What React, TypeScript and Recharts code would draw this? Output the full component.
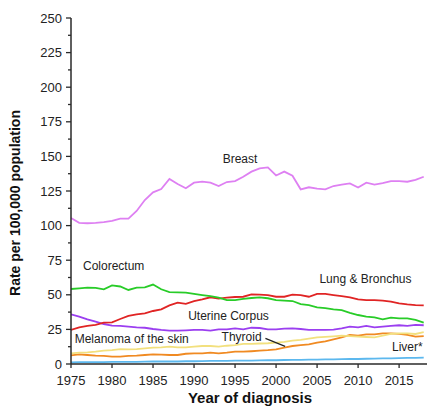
import { LineChart, Line, XAxis, YAxis, ReferenceDot, ReferenceLine } from 'recharts';

const years = [
  1975, 1976, 1977, 1978, 1979, 1980, 1981, 1982, 1983, 1984,
  1985, 1986, 1987, 1988, 1989, 1990, 1991, 1992, 1993, 1994,
  1995, 1996, 1997, 1998, 1999, 2000, 2001, 2002, 2003, 2004,
  2005, 2006, 2007, 2008, 2009, 2010, 2011, 2012, 2013, 2014,
  2015, 2016, 2017, 2018,
];

const breast = [
  105.5, 102, 101.7, 102, 102.5, 103.4, 105, 105, 110.6, 118.5,
  124, 126.4, 133.7, 130, 127, 131, 131.7, 131, 128.6, 131.5,
  132.2, 135.3, 139, 141.3, 142, 136.2, 139, 136, 126.2, 127.7,
  126.7, 126.2, 128.6, 129.6, 130.5, 127.5, 131, 129.6, 130.7, 132.2,
  132.2, 131.7, 133, 135.3,
];
const colorectum = [
  54.2, 54.7, 55.2, 55, 54, 56.8, 56, 53.5, 55.2, 55.4,
  57.4, 54, 52, 51.8, 51.5, 50.6, 49.8, 49, 47.9, 46.2,
  46.2, 47, 47.7, 48.2, 47.5, 46.2, 45.8, 45.5, 43.3, 42.6,
  40.9, 40.4, 39.5, 39, 37, 35.4, 34.2, 33.7, 32.3, 33.5,
  33, 33, 31.8, 29.9,
];
const lung = [
  24.6, 26.5, 27.5, 28.2, 29.9, 30.1, 32.5, 34.7, 35.9, 36.6,
  38.3, 39.5, 42.4, 44.3, 43.4, 45.5, 46.7, 48.2, 47.2, 47.9,
  48.4, 48.6, 50.3, 50.1, 49.8, 48.6, 48.6, 50.1, 49.8, 48.6,
  50.6, 50.6, 49.8, 49.1, 48.2, 46.7, 46.2, 46.2, 45.8, 45,
  43.8, 43.1, 42.6, 42.4,
];
const uterine = [
  35.9, 34.2, 32.3, 30.6, 28.9, 27.7, 27.5, 27, 26.5, 26.2,
  25.3, 24.6, 24.1, 24.1, 24.3, 24.6, 24.6, 24.1, 25, 25,
  25.8, 25, 26.2, 26, 25, 25, 25.5, 25.8, 25.3, 24.6,
  24.6, 24.6, 24.8, 25.8, 27, 26.5, 27.5, 26.5, 27, 27.5,
  28, 27.5, 28.2, 28,
];
const melanoma = [
  7.7, 8.2, 8.4, 8.9, 9.6, 10.1, 10.8, 10.6, 10.8, 11.3,
  11.8, 12, 12.5, 12, 12, 12.5, 13, 13, 12.5, 13.2,
  13.7, 14.5, 14.6, 14.8, 15, 15.4, 16, 16.9, 17.5, 18.3,
  19.2, 19.6, 20, 20.5, 20.2, 19.8, 19.5, 19.2, 20.5, 21.7,
  22.2, 22.2, 21.7, 23,
];
const thyroid = [
  6.2, 7, 6.5, 6, 5.8, 5.3, 5.3, 5.8, 6, 6.5,
  7, 6.8, 6.5, 6.5, 7.4, 7.7, 7.7, 8.2, 7.7, 8.2,
  8.9, 8.9, 9.2, 9.6, 10, 10.6, 11.8, 13, 13.7, 14.2,
  15.4, 16.4, 17.8, 19.2, 21, 20.5, 21.4, 21.4, 22.2, 22.2,
  21.7, 21, 19.8, 20.2,
];
const liver = [
  1.2, 1.3, 1.3, 1.4, 1.3, 1.5, 1.5, 1.6, 1.5, 1.7,
  1.8, 1.8, 1.9, 1.8, 2, 2, 2.1, 2.2, 2.3, 2.2,
  2.4, 2.5, 2.5, 2.6, 2.7, 2.7, 2.9, 3, 3, 3.1,
  3.2, 3.3, 3.4, 3.5, 3.6, 3.6, 3.8, 3.9, 4, 4.1,
  4.2, 4.4, 4.4, 4.6,
];

const xTicks = [1975, 1980, 1985, 1990, 1995, 2000, 2005, 2010, 2015];
const yTicks = [0, 12.5, 25, 37.5, 50, 62.5, 75, 87.5, 100, 112.5, 125, 137.5, 150, 162.5, 175, 187.5, 200, 212.5, 225, 237.5, 250];

const seriesLabels = [
  { name: 'Breast', year: 1995.6, value: 148.6 },
  { name: 'Colorectum', year: 1980.2, value: 71 },
  { name: 'Lung & Bronchus', year: 2010.9, value: 61.9 },
  { name: 'Uterine Corpus', year: 1994.2, value: 34.9 },
  { name: 'Melanoma of the skin', year: 1982.4, value: 18.1 },
  { name: 'Thyroid', year: 1995.8, value: 19.7 },
  { name: 'Liver*', year: 2016, value: 12.5 },
];

const data = years.map((year, i) => ({
  year,
  breast: breast[i],
  colorectum: colorectum[i],
  lung: lung[i],
  uterine: uterine[i],
  melanoma: melanoma[i],
  thyroid: thyroid[i],
  liver: liver[i],
}));

const AXIS = '#2a2a2a';
const FONT = '"Liberation Sans", Arial, sans-serif';

// major ticks every 25 with labels, short minor ticks in between
const YTick = ({ x, y, payload }: any) => {
  const v = payload.value;
  const major = v % 25 === 0;
  const ax = x + 8;
  return (
    <g>
      <line x1={ax - (major ? 5 : 3)} x2={ax} y1={y} y2={y} stroke={AXIS} strokeWidth={1.3} />
      {major && (
        <text x={ax - 9} y={y} dy="0.36em" textAnchor="end" fontSize={13} fill="#222" fontFamily={FONT}>
          {v}
        </text>
      )}
    </g>
  );
};

const TextLabel = ({ viewBox, value }: any) => {
  const cx = viewBox.cx ?? viewBox.x + (viewBox.width || 0) / 2;
  const cy = viewBox.cy ?? viewBox.y + (viewBox.height || 0) / 2;
  return (
    <text x={cx} y={cy} dy="0.36em" textAnchor="middle" fontSize={12} fill="#222" fontFamily={FONT}>
      {value}
    </text>
  );
};

export default function App() {
  return (
    <div style={{ position: 'absolute', left: 0, top: 0, width: 427, height: 408, overflow: 'hidden', background: '#fff' }}>
      <LineChart width={427} height={408} data={data} margin={{ top: 18, right: 0, bottom: 0, left: 0 }}>
        <XAxis
          dataKey="year"
          type="number"
          domain={[1975, 2018.4]}
          ticks={xTicks}
          allowDataOverflow
          height={44}
          tickSize={4}
          tickMargin={8}
          axisLine={{ stroke: AXIS, strokeWidth: 1.5 }}
          tickLine={{ stroke: AXIS, strokeWidth: 1.3 }}
          tick={{ fontSize: 13, fill: '#222', fontFamily: FONT }}
          label={{
            content: () => (
              <text x={250} y={403} textAnchor="middle" fontSize={15} fontWeight="bold" fill="#111" fontFamily={FONT}>
                Year of diagnosis
              </text>
            ),
          }}
        />
        <YAxis
          type="number"
          domain={[0, 250]}
          ticks={yTicks}
          interval={0}
          width={71}
          tickSize={0}
          tickMargin={8}
          tickLine={false}
          axisLine={{ stroke: AXIS, strokeWidth: 1.5 }}
          tick={<YTick />}
          label={{
            content: () => (
              <text
                x={20}
                y={203}
                transform="rotate(-90, 20, 203)"
                textAnchor="middle"
                fontSize={14}
                fontWeight="bold"
                fill="#111"
                fontFamily={FONT}
              >
                Rate per 100,000 population
              </text>
            ),
          }}
        />
        <Line dataKey="liver" stroke="#5cb8ee" strokeWidth={1.8} dot={false} isAnimationActive={false} />
        <Line dataKey="thyroid" stroke="#f08a22" strokeWidth={1.8} dot={false} isAnimationActive={false} />
        <Line dataKey="melanoma" stroke="#f2e07e" strokeWidth={1.8} dot={false} isAnimationActive={false} />
        <Line dataKey="uterine" stroke="#9b3ff0" strokeWidth={1.8} dot={false} isAnimationActive={false} />
        <Line dataKey="lung" stroke="#e02424" strokeWidth={1.8} dot={false} isAnimationActive={false} />
        <Line dataKey="colorectum" stroke="#28cc28" strokeWidth={1.8} dot={false} isAnimationActive={false} />
        <Line dataKey="breast" stroke="#de80f2" strokeWidth={1.8} dot={false} isAnimationActive={false} />
        <ReferenceLine
          segment={[
            { x: 1998.7, y: 18.5 },
            { x: 2001.1, y: 12.7 },
          ]}
          stroke="#222"
          strokeWidth={1.2}
        />
        {seriesLabels.map((l) => (
          <ReferenceDot
            key={l.name}
            x={l.year}
            y={l.value}
            r={0}
            fill="none"
            stroke="none"
            label={<TextLabel value={l.name} />}
          />
        ))}
      </LineChart>
    </div>
  );
}
